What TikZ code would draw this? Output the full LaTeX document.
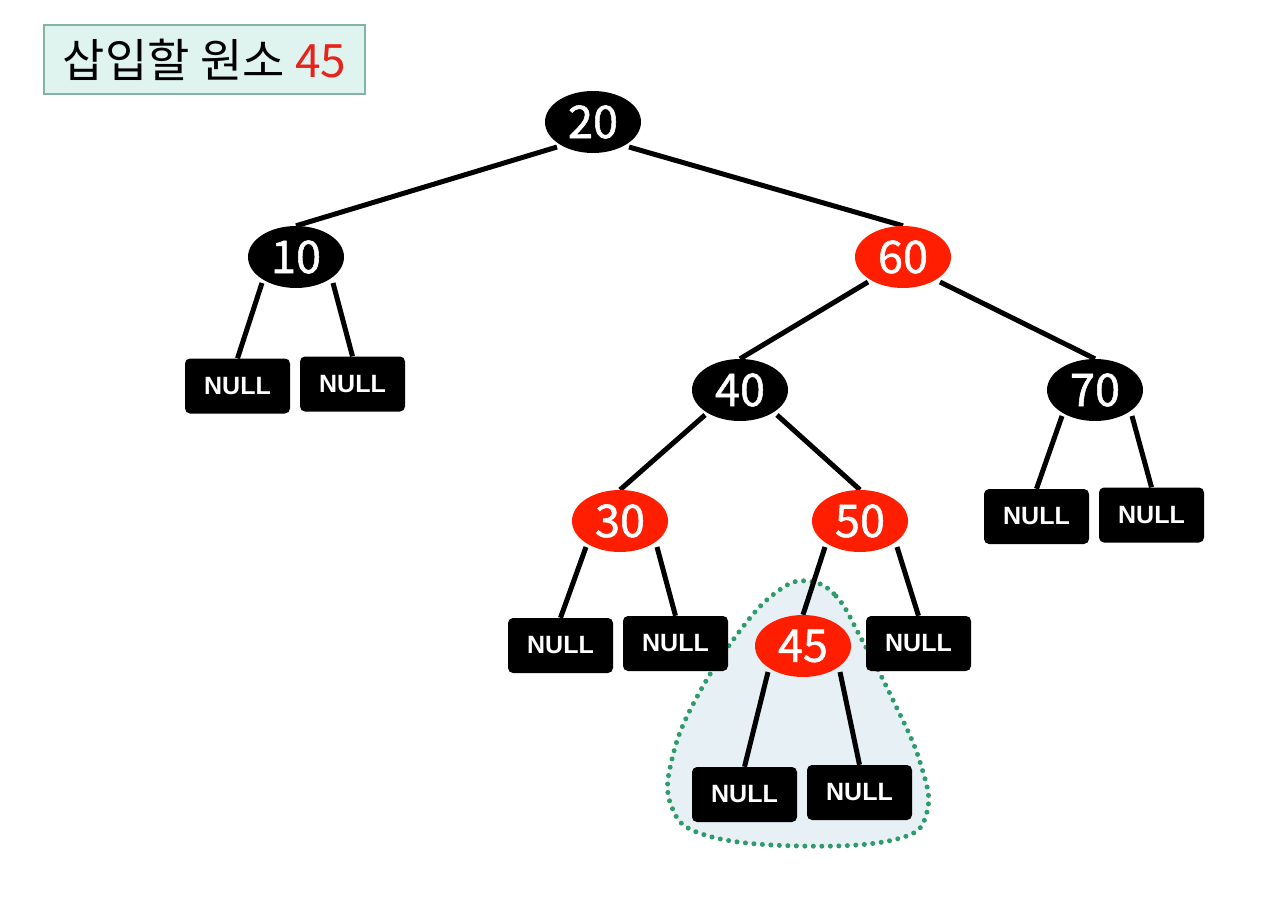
\documentclass[tikz,border=0pt]{standalone}
\usepackage{fontspec}
\setmainfont{Noto Sans}
\newfontfamily\krfont{Noto Sans CJK KR}
\newfontfamily\numfont{Noto Sans CJK KR}[FakeBold=1.2]
\newfontfamily\leaffont{Liberation Sans}
\usetikzlibrary{shapes.geometric,backgrounds,calc}
\definecolor{rbred}{HTML}{FF1E00}
\definecolor{hred}{HTML}{E8231C}
\definecolor{hdrfill}{HTML}{DFF4EE}
\definecolor{hdrdraw}{HTML}{86B2A6}
\definecolor{blobfill}{HTML}{E6F0F5}
\definecolor{blobdraw}{HTML}{2F9A6A}
\begin{document}
\begin{tikzpicture}[x=1pt,y=-1pt,
  rbnode/.style={ellipse, minimum width=96pt, minimum height=62pt, inner sep=0pt, text=white, font=\numfont\fontsize{45}{45}\selectfont},
  blacknode/.style={rbnode, fill=black},
  rednode/.style={rbnode, fill=rbred},
  nullbox/.style={rectangle, rounded corners=5pt, fill=black, minimum width=105pt, minimum height=55pt, inner sep=0pt, text=white, font=\leaffont\bfseries\fontsize{25}{25}\selectfont},
  treeedge/.style={line width=5pt, black},
  hdrbox/.style={rectangle, draw=hdrdraw, fill=hdrfill, line width=2.5pt, minimum width=321pt, minimum height=69pt, inner sep=0pt, font=\krfont\fontsize{46}{46}\selectfont}]
\useasboundingbox (0,0) rectangle (1274,900);

% header
\node[hdrbox] (hdr) at (204.5,59.5) {\raisebox{-1pt}{삽입할 원소 \textcolor{hred}{45}}};

% tree nodes
\node[blacknode] (n20) at (593,122) {20};
\node[blacknode] (n10) at (296,257) {10};
\node[rednode]   (n60) at (903,257) {60};
\node[blacknode] (n40) at (740,390) {40};
\node[blacknode] (n70) at (1095,390) {70};
\node[rednode]   (n30) at (620,521) {30};
\node[rednode]   (n50) at (860,521) {50};
\node[rednode]   (n45) at (803,646) {45};

% NULL leaves
\node[nullbox] (z10a) at (237.5,386) {NULL};
\node[nullbox] (z10b) at (352.5,384) {NULL};
\node[nullbox] (z70a) at (1036.5,516.5) {NULL};
\node[nullbox] (z70b) at (1151.5,515) {NULL};
\node[nullbox] (z30a) at (560.5,645.5) {NULL};
\node[nullbox] (z30b) at (675.5,643.5) {NULL};
\node[nullbox] (z50b) at (918.5,643.5) {NULL};
\node[nullbox] (z45a) at (744.5,794.5) {NULL};
\node[nullbox] (z45b) at (859.5,792.5) {NULL};

\begin{pgfonlayer}{background}
  \fill[white] (0,0) rectangle (1274,900);
  % highlighted subtree blob
  \path[fill=blobfill] plot[smooth cycle, tension=0.7] coordinates {(807,581) (836,596) (862,640) (893,700) (920,762) (927,812) (897,839) (800,846) (705,835) (671,805) (673,755) (698,695) (742,628) (778,591)};
  \draw[blobdraw, line width=5pt, line cap=round, dash pattern=on 0pt off 8.5pt] plot[smooth cycle, tension=0.7] coordinates {(807,581) (836,596) (862,640) (893,700) (920,762) (927,812) (897,839) (800,846) (705,835) (671,805) (673,755) (698,695) (742,628) (778,591)};

  % edges
  \draw[treeedge] ($(n20)+(-36,25)$) -- (n10.north);
  \draw[treeedge] ($(n20)+(36,25)$) -- (n60.north);
  \draw[treeedge] ($(n10)+(-34,26)$) -- (z10a.north);
  \draw[treeedge] ($(n10)+(37,26)$) -- (z10b.north);
  \draw[treeedge] ($(n60)+(-35,25)$) -- (n40.north);
  \draw[treeedge] ($(n60)+(37,25)$) -- (n70.north);
  \draw[treeedge] ($(n40)+(-35,25)$) -- (n30.north);
  \draw[treeedge] ($(n40)+(37,25)$) -- (n50.north);
  \draw[treeedge] ($(n70)+(-33,26)$) -- (z70a.north);
  \draw[treeedge] ($(n70)+(37,26)$) -- (z70b.north);
  \draw[treeedge] ($(n30)+(-34,26)$) -- (z30a.north);
  \draw[treeedge] ($(n30)+(37,26)$) -- (z30b.north);
  \draw[treeedge] ($(n50)+(-35,26)$) -- (n45.north);
  \draw[treeedge] ($(n50)+(37,26)$) -- (z50b.north);
  \draw[treeedge] ($(n45)+(-35,26)$) -- (z45a.north);
  \draw[treeedge] ($(n45)+(37,26)$) -- (z45b.north);
\end{pgfonlayer}
\end{tikzpicture}
\end{document}
